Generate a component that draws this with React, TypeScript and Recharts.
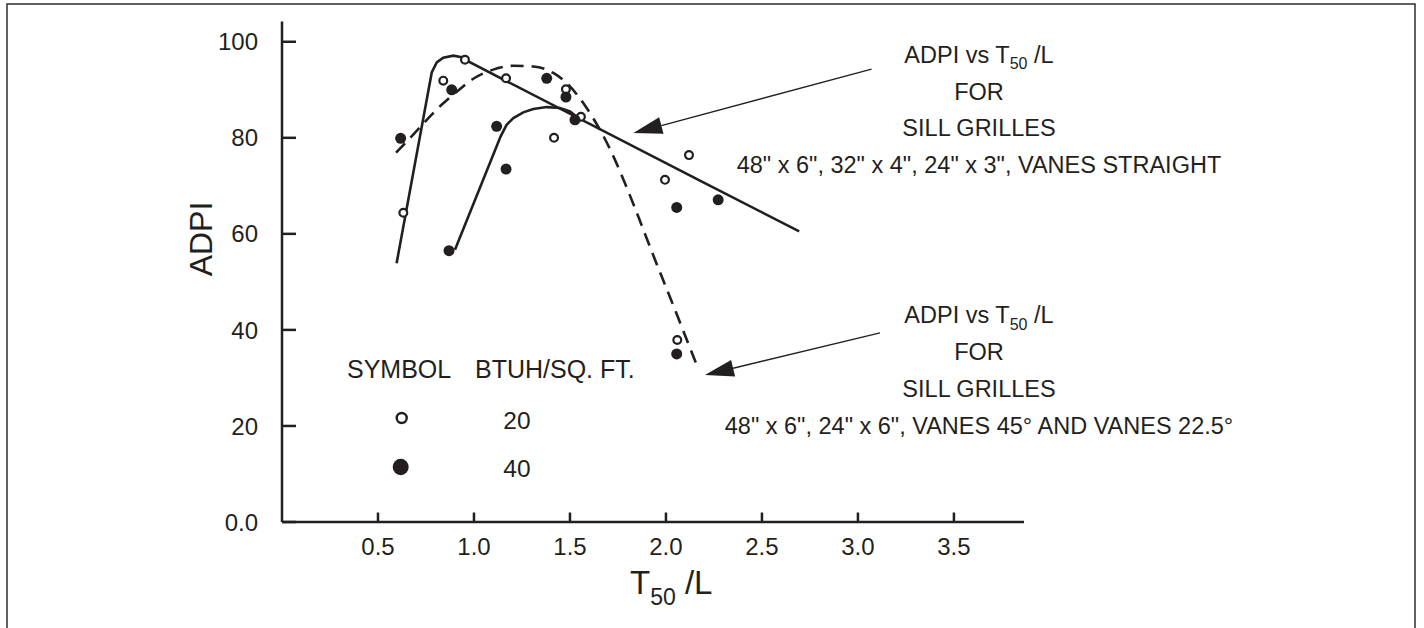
import {
  ComposedChart,
  Line,
  Scatter,
  XAxis,
  YAxis,
  ReferenceLine,
} from "recharts";

const INK = "#231f20";
const FONT = "'Liberation Sans', Arial, Helvetica, sans-serif";

// axis ticks
const xTicks = [0.5, 1.0, 1.5, 2.0, 2.5, 3.0, 3.5];
const yTicks = [0, 20, 40, 60, 80, 100];

// measured points, 20 BTUH/sq.ft (open) and 40 BTUH/sq.ft (filled)
const open20 = [
  { x: 0.632, y: 64.4 },
  { x: 0.84, y: 91.9 },
  { x: 0.953, y: 96.25 },
  { x: 1.167, y: 92.4 },
  { x: 1.479, y: 90.1 },
  { x: 1.557, y: 84.4 },
  { x: 1.417, y: 80.0 },
  { x: 2.12, y: 76.4 },
  { x: 1.995, y: 71.25 },
  { x: 2.059, y: 37.9 },
];

const filled40 = [
  { x: 0.618, y: 79.9 },
  { x: 0.884, y: 90.0 },
  { x: 1.379, y: 92.4 },
  { x: 1.479, y: 88.5 },
  { x: 1.526, y: 83.75 },
  { x: 1.118, y: 82.4 },
  { x: 1.167, y: 73.5 },
  { x: 0.87, y: 56.5 },
  { x: 2.056, y: 65.5 },
  { x: 2.272, y: 67.1 },
  { x: 2.056, y: 35.0 },
];

// fitted curves
const straightVanesLeft = [
  { x: 0.597, y: 53.9 },
  { x: 0.78, y: 93.6 },
  { x: 0.806, y: 95.7 },
  { x: 0.84, y: 96.7 },
  { x: 0.892, y: 97.1 },
  { x: 0.936, y: 96.8 },
  { x: 0.953, y: 96.25 },
  { x: 2.177, y: 71.1 },
  { x: 2.694, y: 60.5 },
];

const straightVanesRight = [
  { x: 0.901, y: 56.7 },
  { x: 1.139, y: 80.3 },
  { x: 1.17, y: 82.7 },
  { x: 1.205, y: 84.1 },
  { x: 1.257, y: 85.3 },
  { x: 1.309, y: 86.0 },
  { x: 1.379, y: 86.4 },
  { x: 1.448, y: 86.2 },
  { x: 1.5, y: 85.5 },
  { x: 1.535, y: 84.4 },
];

const angledVanes = [
  { x: 0.594, y: 76.9 },
  { x: 0.649, y: 79.2 },
  { x: 0.84, y: 87.2 },
  { x: 0.91, y: 89.6 },
  { x: 0.988, y: 92.1 },
  { x: 1.1, y: 94.2 },
  { x: 1.205, y: 95.0 },
  { x: 1.309, y: 94.85 },
  { x: 1.413, y: 93.5 },
  { x: 1.5, y: 90.7 },
  { x: 1.587, y: 86.2 },
  { x: 1.656, y: 81.7 },
  { x: 1.978, y: 51.1 },
  { x: 2.16, y: 32.7 },
];

// annotation arrows: [tail, tip]
const arrowTop = [
  { x: 3.071, y: 94.3 },
  { x: 1.83, y: 81.0 },
];
const arrowBottom = [
  { x: 3.115, y: 39.4 },
  { x: 2.203, y: 30.6 },
];

const fmtY = (v: number) => (v === 0 ? "0.0" : String(v));

function YTick(props: any) {
  const { x, y, payload } = props;
  return (
    <g>
      <line x1={x + 24} x2={x + 38} y1={y} y2={y} stroke={INK} strokeWidth={2.5} />
      <text x={x} y={y} dy={8.6} textAnchor="end" fontSize={24} fontFamily={FONT} fill={INK}>
        {fmtY(payload.value)}
      </text>
    </g>
  );
}

function XTick(props: any) {
  const { x, y, payload } = props;
  return (
    <g>
      <line x1={x} x2={x} y1={y - 24} y2={y - 33.5} stroke={INK} strokeWidth={2.5} />
      <text x={x} y={y} dy={9} textAnchor="middle" fontSize={24} fontFamily={FONT} fill={INK}>
        {Number(payload.value).toFixed(1)}
      </text>
    </g>
  );
}

function OpenDot(props: any) {
  const { cx, cy } = props;
  return <circle cx={cx} cy={cy} r={3.9} fill="#fff" stroke={INK} strokeWidth={2.2} />;
}

function FilledDot(props: any) {
  const { cx, cy } = props;
  return <circle cx={cx} cy={cy} r={5.5} fill={INK} />;
}

function Arrow(props: any) {
  const { x1, y1, x2, y2 } = props;
  const dx = x2 - x1;
  const dy = y2 - y1;
  const len = Math.hypot(dx, dy) || 1;
  const ux = dx / len;
  const uy = dy / len;
  const head = 29;
  const half = 8.5;
  const bx = x2 - ux * head;
  const by = y2 - uy * head;
  return (
    <g>
      <line x1={x1} y1={y1} x2={bx} y2={by} stroke={INK} strokeWidth={1.3} />
      <polygon
        points={`${x2},${y2} ${bx - uy * half},${by + ux * half} ${bx + uy * half},${by - ux * half}`}
        fill={INK}
      />
    </g>
  );
}

function Note({ top, last }: { top: number; last: string }) {
  const cx = 979;
  const t = { textAnchor: "middle" as const, fontSize: 23.5, fontFamily: FONT, fill: INK };
  return (
    <g>
      <text x={cx} y={top} {...t}>
        ADPI vs T<tspan fontSize={16} dy={6.5}>50</tspan>
        <tspan dy={-6.5}>{" /L"}</tspan>
      </text>
      <text x={cx} y={top + 37} {...t}>
        FOR
      </text>
      <text x={cx} y={top + 73.5} {...t}>
        SILL GRILLES
      </text>
      <text x={cx} y={top + 110.5} {...t}>
        {last}
      </text>
    </g>
  );
}

export default function App() {
  return (
    <div style={{ position: "absolute", left: 0, top: 0, width: 1424, height: 628, background: "#fff", overflow: "hidden" }}>
      <ComposedChart
        width={1424}
        height={628}
        margin={{ top: 21.6, right: 400, left: 222, bottom: 66 }}
      >
        <XAxis
          dataKey="x"
          type="number"
          domain={[0, 3.865]}
          ticks={xTicks}
          interval={0}
          tickSize={0}
          tickMargin={24}
          tickLine={false}
          axisLine={{ stroke: INK, strokeWidth: 2.5 }}
          tick={<XTick />}
          height={40}
          allowDataOverflow
        />
        <YAxis
          type="number"
          domain={[0, 104.2]}
          ticks={yTicks}
          interval={0}
          tickSize={0}
          tickMargin={24}
          tickLine={false}
          axisLine={{ stroke: INK, strokeWidth: 2.5 }}
          tick={<YTick />}
          width={60}
          allowDataOverflow
        />
        <Line
          data={straightVanesLeft}
          dataKey="y"
          type="linear"
          stroke={INK}
          strokeWidth={2.6}
          dot={false}
          activeDot={false}
          isAnimationActive={false}
        />
        <Line
          data={straightVanesRight}
          dataKey="y"
          type="linear"
          stroke={INK}
          strokeWidth={2.6}
          dot={false}
          activeDot={false}
          isAnimationActive={false}
        />
        <Line
          data={angledVanes}
          dataKey="y"
          type="monotone"
          stroke={INK}
          strokeWidth={2.6}
          strokeDasharray="13 8"
          dot={false}
          activeDot={false}
          isAnimationActive={false}
        />
        <Scatter data={open20} dataKey="y" shape={<OpenDot />} isAnimationActive={false} />
        <Scatter data={filled40} dataKey="y" shape={<FilledDot />} isAnimationActive={false} />
        <ReferenceLine segment={arrowTop} ifOverflow="visible" shape={(p: any) => <Arrow {...p} />} />
        <ReferenceLine segment={arrowBottom} ifOverflow="visible" shape={(p: any) => <Arrow {...p} />} />
      </ComposedChart>

      <svg
        width={1424}
        height={628}
        style={{ position: "absolute", left: 0, top: 0, pointerEvents: "none" }}
      >
        <rect x={7} y={4} width={1408} height={660} fill="none" stroke="#3a3a3a" strokeWidth={1.6} />

        <text
          x={212}
          y={239}
          transform="rotate(-90 212 239)"
          textAnchor="middle"
          fontSize={32}
          fontFamily={FONT}
          fill={INK}
        >
          ADPI
        </text>
        <text x={630} y={594} fontSize={33} fontFamily={FONT} fill={INK}>
          T<tspan fontSize={23} dy={11}>50</tspan>
          <tspan dy={-11}>{" /L"}</tspan>
        </text>

        <Note top={62.7} last={'48" x 6", 32" x 4", 24" x 3", VANES STRAIGHT'} />
        <Note top={323.4} last={'48" x 6", 24" x 6", VANES 45° AND VANES 22.5°'} />

        <g fontFamily={FONT} fill={INK} fontSize={25}>
          <text x={347} y={378}>SYMBOL</text>
          <text x={475} y={378}>BTUH/SQ. FT.</text>
          <text x={517} y={428.6} textAnchor="middle" fontSize={24.5}>20</text>
          <text x={517} y={476.6} textAnchor="middle" fontSize={24.5}>40</text>
        </g>
        <circle cx={401.7} cy={418} r={5} fill="#fff" stroke={INK} strokeWidth={2.4} />
        <ellipse cx={400.7} cy={467} rx={8} ry={8.3} fill={INK} />
      </svg>
    </div>
  );
}
